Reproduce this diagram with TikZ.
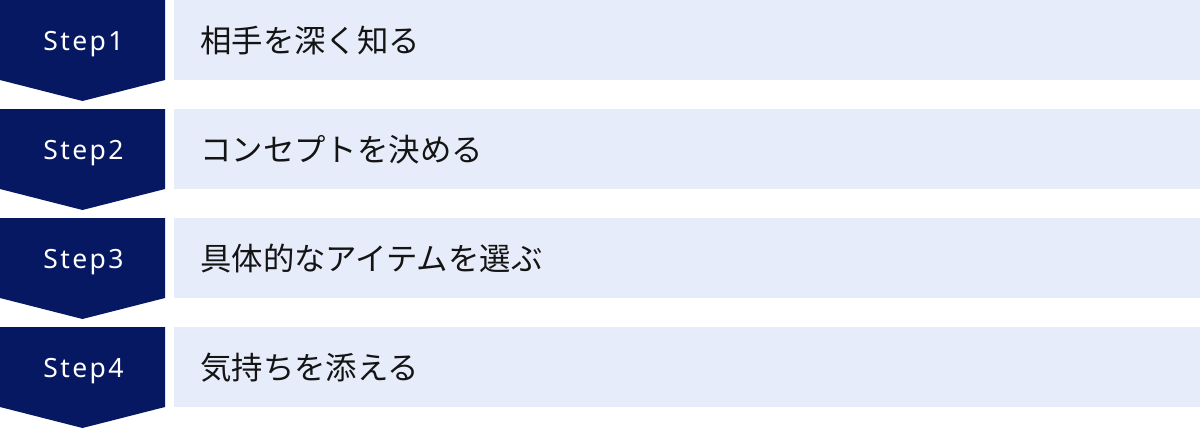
\documentclass[tikz,border=0pt]{standalone}
\usepackage{fontspec}
\newfontfamily\jpfont{Noto Sans CJK JP}
\newfontfamily\stepfont[LetterSpace=9]{Noto Sans}
\definecolor{navy}{HTML}{061862}
\definecolor{pale}{HTML}{E6ECF9}
\definecolor{ink}{HTML}{141414}
\tikzset{
  steptag/.style={fill=navy, draw=none},
  panel/.style={fill=pale, draw=none},
  steplabel/.style={text=white, font=\stepfont\fontsize{26.5pt}{26.5pt}\selectfont, inner sep=0pt, anchor=base},
  itemlabel/.style={text=ink, font=\jpfont\fontsize{31.4pt}{31.4pt}\selectfont, anchor=west, inner sep=0pt}
}
\begin{document}
\begin{tikzpicture}[x=1pt,y=-1pt]
\useasboundingbox (0,0) rectangle (1200,429);
\foreach \i/\lab/\txt in {1/Step1/相手を深く知る, 2/Step2/コンセプトを決める, 3/Step3/具体的なアイテムを選ぶ, 4/Step4/気持ちを添える}{
  \pgfmathsetmacro{\yo}{(\i-1)*109}
  \fill[steptag] (0,\yo) -- (165,\yo) -- (165,\yo+80) -- (82.5,\yo+101) -- (0,\yo+80) -- cycle;
  \fill[panel] (174,\yo) rectangle (1200,\yo+80);
  \node[steplabel] (s\i) at (83.5,\yo+50) {\lab};
  \node[itemlabel] (t\i) at (200,\yo+40.5) {\txt};
}
\end{tikzpicture}
\end{document}
